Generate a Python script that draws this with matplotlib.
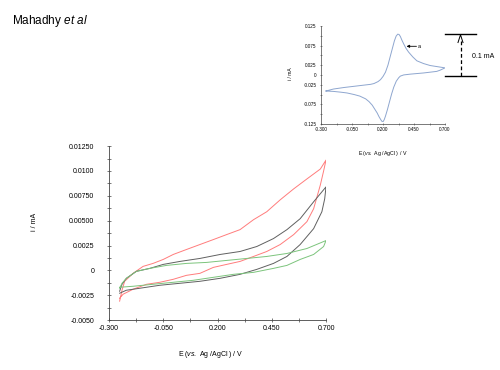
import matplotlib
matplotlib.use('Agg')
import matplotlib.pyplot as plt
from matplotlib.lines import Line2D

plt.rcParams['font.family'] = ['Liberation Sans', 'DejaVu Sans']
plt.rcParams['mathtext.fontset'] = 'custom'
plt.rcParams['mathtext.rm'] = 'Liberation Sans'
plt.rcParams['mathtext.it'] = 'Liberation Sans:italic'

# main chart: three cyclic voltammograms (potential V, current mA), forward then return
red_e = [-0.251, -0.240, -0.228, -0.189, -0.143, -0.097, -0.050, -0.004, 0.057, 0.119, 0.181,
         0.242, 0.304, 0.366, 0.427, 0.489, 0.551, 0.612, 0.674, 0.700,
         0.689, 0.674, 0.643, 0.612, 0.551, 0.489, 0.427, 0.366, 0.304, 0.242, 0.181, 0.119,
         0.057, -0.004, -0.066, -0.127, -0.189, -0.235, -0.251]
red_i = [-0.0031, -0.0020, -0.0011, -0.0003, 0.0004, 0.0007, 0.0011, 0.0016, 0.0021, 0.0026, 0.0031,
         0.0036, 0.0041, 0.0051, 0.0059, 0.0071, 0.0082, 0.0092, 0.0102, 0.0111,
         0.0100, 0.0086, 0.0062, 0.0049, 0.0036, 0.0026, 0.0019, 0.0014, 0.0009, 0.0006, 0.0003, -0.0003,
         -0.0005, -0.0009, -0.0012, -0.0014, -0.0019, -0.0024, -0.0028]

black_e = [-0.251, -0.240, -0.220, -0.174, -0.112, -0.050, 0.027, 0.119, 0.212, 0.304, 0.381,
           0.458, 0.520, 0.581, 0.643, 0.700,
           0.694, 0.681, 0.643, 0.581, 0.520, 0.458, 0.381, 0.304, 0.212, 0.119, 0.027, -0.066,
           -0.158, -0.220, -0.251]
black_i = [-0.0021, -0.0014, -0.0008, -0.0001, 0.0002, 0.0006, 0.0009, 0.0012, 0.0016, 0.0019, 0.0024,
           0.0032, 0.0041, 0.0052, 0.0069, 0.0084,
           0.0072, 0.0059, 0.0042, 0.0026, 0.0014, 0.0007, 0.0001, -0.0004, -0.0008, -0.0011, -0.0013, -0.0015,
           -0.0018, -0.0020, -0.0023]

green_e = [-0.251, -0.240, -0.220, -0.174, -0.112, -0.035, 0.057, 0.150, 0.242, 0.335, 0.427,
           0.520, 0.612, 0.700,
           0.689, 0.643, 0.581, 0.520, 0.458, 0.366, 0.273, 0.181, 0.088, -0.004, -0.097, -0.189, -0.251]
green_i = [-0.0018, -0.0013, -0.0008, -0.0001, 0.0002, 0.0005, 0.0007, 0.0008, 0.0010, 0.0012, 0.0014,
           0.0017, 0.0022, 0.0030,
           0.0024, 0.0016, 0.0011, 0.0005, 0.0002, -0.0002, -0.0004, -0.0007, -0.0010, -0.0012, -0.0014, -0.0016, -0.0017]

main_xticks = [-0.3, -0.05, 0.2, 0.45, 0.7]
main_xlabels = ['-0.300', '-0.050', '0.200', '0.450', '0.700']
main_yticks = [0.0125, 0.01, 0.0075, 0.005, 0.0025, 0, -0.0025, -0.005]
main_ylabels = ['0.01250', '0.0100', '0.00750', '0.00500', '0.0025', '0', '-0.0025', '-0.0050']

# inset: reference redox couple (curve a)
inset_e = [-0.260, -0.200, -0.113, 0.020, 0.100, 0.127, 0.160, 0.180, 0.200, 0.220, 0.240, 0.260,
           0.276, 0.292, 0.306, 0.319, 0.330, 0.340, 0.352, 0.367, 0.387, 0.407, 0.440, 0.473,
           0.527, 0.580, 0.640, 0.700,
           0.660, 0.633, 0.527, 0.420, 0.367, 0.340, 0.327, 0.307, 0.287, 0.270, 0.252, 0.236,
           0.220, 0.210, 0.201, 0.190, 0.180, 0.167, 0.153, 0.133, 0.113, 0.087, 0.060, 0.013,
           -0.033, -0.090, -0.140, -0.200, -0.260]
inset_i = [-0.041, -0.036, -0.032, -0.027, -0.024, -0.022, -0.017, -0.012, -0.004, 0.007, 0.025, 0.049,
           0.068, 0.087, 0.099, 0.104, 0.103, 0.098, 0.089, 0.079, 0.067, 0.058, 0.046, 0.036,
           0.029, 0.024, 0.021, 0.018,
           0.012, 0.009, 0.005, 0.002, 0.000, -0.003, -0.007, -0.016, -0.031, -0.048, -0.069, -0.088,
           -0.105, -0.114, -0.119, -0.118, -0.113, -0.106, -0.097, -0.087, -0.077, -0.068, -0.061, -0.054,
           -0.050, -0.046, -0.044, -0.042, -0.041]

inset_xticks = [-0.3, -0.05, 0.2, 0.45, 0.7]
inset_xlabels = ['-0.300', '-0.050', '0.200', '0.450', '0.700']
inset_yticks = [0.125, 0.075, 0.025, 0, -0.025, -0.075, -0.125]
inset_ylabels = ['0.125', '0.075', '0.025', '0', '-0.025', '-0.075', '-0.125']

xlabel_text = r'E ($\mathit{vs.}$ Ag /AgCl ) / V'

fig = plt.figure(figsize=(5, 3.7), dpi=100)
fig.text(0.024, 0.942, r'Mahadhy $\mathit{et\ al}$', fontsize=8.5, va='center')

# ---- main axes
ax = fig.add_axes([0.218, 0.135, 0.434, 0.47])
ax.plot(red_e, red_i, color='#ff7c7c', lw=0.7)
ax.plot(black_e, black_i, color='#606060', lw=0.7)
ax.plot(green_e, green_i, color='#7cc47c', lw=0.7)
ax.set_xlim(-0.3, 0.7)
ax.set_ylim(-0.005, 0.0125)
for s in ['top', 'right']:
    ax.spines[s].set_visible(False)
for s in ['left', 'bottom']:
    ax.spines[s].set_linewidth(0.6)
    ax.spines[s].set_color('#444444')
ax.set_xticks(main_xticks)
ax.set_xticklabels(main_xlabels)
ax.set_xticks([-0.175, 0.075, 0.325, 0.575], minor=True)
ax.set_yticks(main_yticks)
ax.set_yticklabels(main_ylabels)
ax.set_yticks([0.01125, 0.00875, 0.00625, 0.00375, 0.00125, -0.00125, -0.00375], minor=True)
ax.tick_params(axis='both', which='both', labelsize=5, width=0.5, color='#444444', direction='inout', length=3)
ax.tick_params(axis='y', pad=9)
ax.tick_params(axis='x', pad=2)
fig.text(0.07, 0.40, 'i / mA', fontsize=5, rotation=90, va='center', ha='center')
fig.text(0.422, 0.043, xlabel_text, fontsize=5, ha='center', va='center')

# ---- inset axes
ins = fig.add_axes([0.642, 0.665, 0.248, 0.265])
ins.plot(inset_e, inset_i, color='#8ea6cf', lw=0.7)
ins.set_xlim(-0.3, 0.7)
ins.set_ylim(-0.125, 0.125)
for s in ['top', 'right']:
    ins.spines[s].set_visible(False)
for s in ['left', 'bottom']:
    ins.spines[s].set_linewidth(0.5)
    ins.spines[s].set_color('#444444')
ins.set_xticks(inset_xticks)
ins.set_xticklabels(inset_xlabels)
ins.set_xticks([-0.175, 0.075, 0.325, 0.575], minor=True)
ins.set_yticks(inset_yticks)
ins.set_yticklabels(inset_ylabels)
ins.set_yticks([0.1, 0.05, -0.05, -0.1], minor=True)
ins.tick_params(axis='both', which='both', labelsize=3.3, width=0.4, color='#444444', direction='inout', length=2)
ins.tick_params(axis='y', pad=2)
ins.tick_params(axis='x', pad=1)
fig.text(0.58, 0.80, 'i / mA', fontsize=3.5, rotation=90, va='center', ha='center')
fig.text(0.765, 0.584, xlabel_text, fontsize=3.8, ha='center', va='center')
ins.annotate('', xy=(0.39, 0.073), xytext=(0.47, 0.073),
             arrowprops=dict(arrowstyle='-|>', lw=0.6, color='black', mutation_scale=4,
                             shrinkA=0, shrinkB=0))
ins.text(0.48, 0.073, 'a', fontsize=4, va='center')

# scale bar for 0.1 mA
fig.add_artist(Line2D([0.89, 0.952], [0.907, 0.907], color='black', lw=1.0))
fig.add_artist(Line2D([0.89, 0.952], [0.795, 0.795], color='black', lw=1.0))
fig.add_artist(Line2D([0.921, 0.921], [0.795, 0.895], color='black', lw=0.9, ls=(0, (3, 2))))
fig.add_artist(Line2D([0.916, 0.921, 0.926], [0.885, 0.906, 0.885], color='black', lw=0.7))
fig.text(0.944, 0.846, '0.1 mA', fontsize=5, va='center')

fig.savefig('out.png', dpi=100)
